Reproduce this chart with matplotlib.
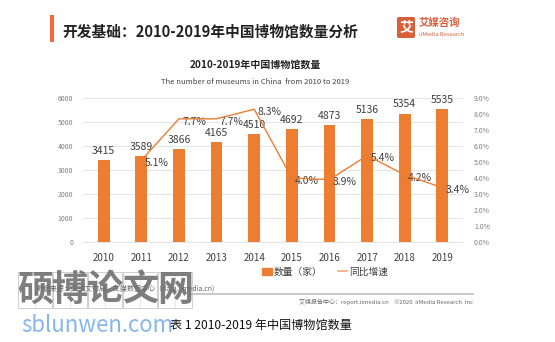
import numpy as np
import matplotlib
matplotlib.use("Agg")
import matplotlib.pyplot as plt
from matplotlib.patches import Rectangle, FancyBboxPatch
from matplotlib.lines import Line2D

plt.rcParams['font.family'] = ['Noto Sans CJK SC', 'DejaVu Sans']

years = ['2010', '2011', '2012', '2013', '2014', '2015', '2016', '2017', '2018', '2019']
museums = [3415, 3589, 3866, 4165, 4510, 4692, 4873, 5136, 5354, 5535]
growth = [np.nan, 5.1, 7.7, 7.7, 8.3, 4.0, 3.9, 5.4, 4.2, 3.4]

ORANGE = '#ED7D31'
W, H = 555, 342


def fx(px):
    return px / W


def fy(py):
    return 1 - py / H


fig = plt.figure(figsize=(5.55, 3.42), dpi=100)
fig.patch.set_facecolor('white')

# header
fig.patches.append(Rectangle((fx(50), fy(42)), fx(4), 27 / H, transform=fig.transFigure,
                             color='#F26B3A', lw=0))
fig.text(fx(62), fy(31), '开发基础：2010-2019年中国博物馆数量分析', fontsize=10.6,
         fontweight='bold', color='#222222', va='center')
fig.patches.append(FancyBboxPatch((fx(397), fy(38)), fx(18), 21 / H, transform=fig.transFigure,
                                  boxstyle='round,pad=0,rounding_size=0.004', color='#D95F3B', lw=0))
fig.text(fx(406), fy(27.5), '艾', fontsize=10, fontweight='bold', color='white', ha='center', va='center')
fig.text(fx(419), fy(23), '艾媒咨询', fontsize=7.5, fontweight='bold', color='#D95F3B', va='center')
fig.text(fx(419), fy(34), 'iiMedia Research', fontsize=4.2, color='#D95F3B', va='center')

# chart title
fig.text(fx(255), fy(65), '2010-2019年中国博物馆数量', fontsize=7.2, fontweight='bold',
         color='#222222', ha='center', va='center')
fig.text(fx(255), fy(82), 'The number of museums in China  from 2010 to 2019', fontsize=5.5,
         color='#444444', ha='center', va='center')

ax = fig.add_axes([fx(83), fy(242), fx(463 - 83), (242 - 98) / H])
x = np.arange(len(years))
ax.bar(x, museums, width=0.31, color=ORANGE, zorder=3, label='数量（家）')
ax.set_ylim(0, 6000)
ax.set_yticks(range(0, 6001, 1000))
ax.set_xlim(-0.55, len(years) - 0.45)
ax.set_xticks(x)
ax.set_xticklabels(years)
ax.grid(axis='y', color='#E6E6E6', lw=0.8, zorder=0)
for s in ['top', 'right', 'left']:
    ax.spines[s].set_visible(False)
ax.spines['bottom'].set_color('#E6E6E6')
ax.tick_params(axis='y', length=0, labelsize=5, labelcolor='#7F7F7F', pad=7)
ax.tick_params(axis='x', length=0, labelsize=7, labelcolor='#404040', pad=8)
for xi, v in zip(x, museums):
    ax.annotate(str(v), (xi, v), xytext=(0, 3), textcoords='offset points', ha='center',
                va='bottom', fontsize=7.5, color='#404040')

ax2 = ax.twinx()
ax2.plot(x, growth, color=ORANGE, lw=1.0, zorder=4, label='同比增速')
ax2.set_ylim(0, 9)
ax2.set_yticks(range(0, 10))
ax2.set_yticklabels(['{:.1f}%'.format(v) for v in range(0, 10)])
for s in ['top', 'right', 'left', 'bottom']:
    ax2.spines[s].set_visible(False)
ax2.tick_params(axis='y', length=0, labelsize=5, labelcolor='#7F7F7F', pad=8)
for xi, g in zip(x, growth):
    if np.isnan(g):
        continue
    ax2.annotate('{:.1f}%'.format(g), (xi, g), xytext=(11, -2), textcoords='offset points',
                 ha='center', va='center', fontsize=7.5, color='#404040')

# legend
handles = [Rectangle((0, 0), 1, 1, color=ORANGE), Line2D([0], [0], color='#F4A77A', lw=1.2)]
fig.legend(handles, ['数量（家）', '同比增速'], loc='center', bbox_to_anchor=(fx(325), fy(272)),
           ncol=2, frameon=False, fontsize=7, handlelength=1.0, handleheight=0.8,
           handletextpad=0.15, columnspacing=1.6, labelcolor='#404040')

# source and footer
fig.text(fx(37), fy(289), '数据来源：国家文物局，艾媒数据中心（data.iimedia.cn)', fontsize=5,
         color='#666666', va='center')
fig.add_artist(Line2D([fx(190), fx(473)], [fy(294), fy(294)], color='#BFBFBF', lw=1.2))
fig.text(fx(473), fy(302), '艾媒报告中心：report.iimedia.cn    ©2020  iiMedia Research  Inc',
         fontsize=4.3, color='#666666', ha='right', va='center')

# watermark
box_x = [18, 53, 88, 123, 158]
chars = ['硕', '博', '论', '文', '网']
for bx, ch in zip(box_x, chars):
    fig.patches.append(Rectangle((fx(bx), fy(308)), fx(34), 36 / H, transform=fig.transFigure,
                                 fill=False, ec='#C8C8C8', lw=0.6))
    fig.add_artist(Line2D([fx(bx + 17), fx(bx + 17)], [fy(308), fy(272)], color='#DDDDDD', lw=0.5))
    fig.text(fx(bx + 17), fy(290), ch, fontsize=26, fontweight='bold', color='#707070',
             ha='center', va='center', alpha=0.9)
fig.text(fx(21), fy(325), 'sblunwen.com', fontsize=16, color='#86B6EC', va='center')
fig.text(fx(170), fy(325), '表 1 2010-2019 年中国博物馆数量', fontsize=8.7, color='#111111', va='center')

fig.savefig('out.png', dpi=100)
